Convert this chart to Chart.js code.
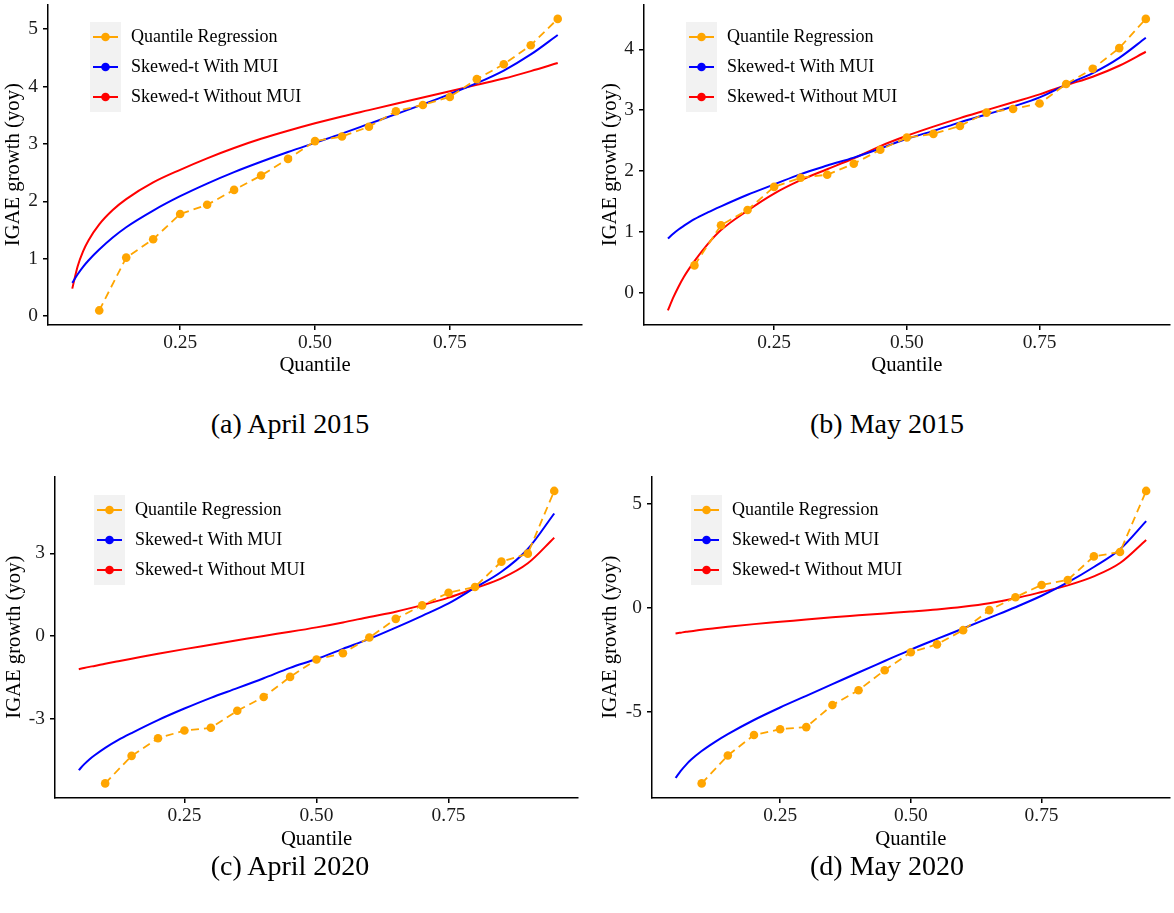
<!DOCTYPE html>
<html>
<head>
<meta charset="utf-8">
<title>IGAE growth by quantile</title>
<script src="https://cdn.jsdelivr.net/npm/chart.js@4.4.1/dist/chart.umd.min.js"></script>
<style>
  body {
    margin: 0;
    background: #fff;
    width: 1174px;
    height: 913px;
    position: relative;
    overflow: hidden;
    font-family: 'Liberation Serif', 'Times New Roman', serif;
  }
  canvas { position: absolute; }
  .caption {
    position: absolute;
    width: 400px;
    text-align: center;
    font-size: 28px;
    line-height: 28px;
    color: #000;
  }
</style>
</head>
<body>
<canvas id="chartA" width="590" height="380" style="left:0px;top:0px"></canvas>
<canvas id="chartB" width="584" height="380" style="left:590px;top:0px"></canvas>
<canvas id="chartC" width="590" height="380" style="left:0px;top:472px"></canvas>
<canvas id="chartD" width="584" height="380" style="left:590px;top:472px"></canvas>

<div class="caption" style="left:90px;top:410px">(a) April 2015</div>
<div class="caption" style="left:687px;top:410px">(b) May 2015</div>
<div class="caption" style="left:90px;top:852px">(c) April 2020</div>
<div class="caption" style="left:687px;top:852px">(d) May 2020</div>

<script>
const qrQuantiles = [0.10, 0.15, 0.20, 0.25, 0.30, 0.35, 0.40, 0.45, 0.50, 0.55, 0.60, 0.65, 0.70, 0.75, 0.80, 0.85, 0.90, 0.95];
const curveQuantiles = [0.05, 0.06, 0.07, 0.08, 0.10, 0.125, 0.15, 0.20, 0.25, 0.30, 0.35, 0.40, 0.45, 0.50, 0.55, 0.60, 0.65, 0.70, 0.75, 0.80, 0.85, 0.90, 0.95];
const xTicks = [0.25, 0.50, 0.75];
const seriesNames = ['Quantile Regression', 'Skewed-t With MUI', 'Skewed-t Without MUI'];
const seriesColors = ['#FFA500', '#0000FF', '#FF0000'];

// (a) April 2015
const apr2015QR = [0.10, 1.02, 1.34, 1.78, 1.94, 2.20, 2.45, 2.74, 3.05, 3.13, 3.30, 3.57, 3.68, 3.82, 4.13, 4.39, 4.72, 5.18];
const apr2015With = [0.58, 0.73, 0.86, 0.97, 1.16, 1.37, 1.55, 1.84, 2.09, 2.31, 2.51, 2.69, 2.86, 3.02, 3.18, 3.35, 3.52, 3.69, 3.87, 4.06, 4.28, 4.56, 4.90];
const apr2015Without = [0.48, 0.87, 1.13, 1.32, 1.60, 1.85, 2.04, 2.33, 2.55, 2.75, 2.93, 3.09, 3.23, 3.36, 3.48, 3.59, 3.70, 3.81, 3.92, 4.03, 4.14, 4.27, 4.41];
const apr2015Ticks = [0, 1, 2, 3, 4, 5];

// (b) May 2015
const may2015QR = [0.45, 1.11, 1.36, 1.74, 1.89, 1.94, 2.12, 2.35, 2.55, 2.61, 2.74, 2.96, 3.02, 3.11, 3.43, 3.68, 4.02, 4.50];
const may2015With = [0.89, 0.97, 1.04, 1.10, 1.21, 1.32, 1.42, 1.61, 1.78, 1.95, 2.09, 2.22, 2.37, 2.53, 2.66, 2.80, 2.93, 3.06, 3.21, 3.42, 3.61, 3.86, 4.19];
const may2015Without = [-0.29, -0.08, 0.10, 0.26, 0.52, 0.80, 1.03, 1.35, 1.63, 1.85, 2.03, 2.21, 2.41, 2.58, 2.73, 2.87, 3.00, 3.13, 3.26, 3.41, 3.55, 3.73, 3.96];
const may2015Ticks = [0, 1, 2, 3, 4];

// (c) April 2020
const apr2020QR = [-5.36, -4.36, -3.72, -3.44, -3.34, -2.72, -2.22, -1.49, -0.86, -0.63, -0.06, 0.62, 1.11, 1.57, 1.78, 2.70, 2.99, 5.27];
const apr2020With = [-4.88, -4.67, -4.49, -4.34, -4.07, -3.78, -3.53, -3.06, -2.64, -2.25, -1.90, -1.54, -1.16, -0.84, -0.47, -0.11, 0.30, 0.73, 1.18, 1.75, 2.33, 3.16, 4.45];
const apr2020Without = [-1.21, -1.165, -1.125, -1.09, -1.01, -0.92, -0.83, -0.65, -0.48, -0.32, -0.16, 0.00, 0.15, 0.31, 0.49, 0.69, 0.88, 1.12, 1.39, 1.73, 2.09, 2.64, 3.57];
const apr2020Ticks = [-3, 0, 3];

// (d) May 2020
const may2020QR = [-8.42, -7.08, -6.10, -5.82, -5.72, -4.66, -3.95, -2.99, -2.13, -1.75, -1.07, -0.11, 0.51, 1.10, 1.34, 2.47, 2.68, 5.61];
const may2020With = [-8.16, -7.82, -7.53, -7.28, -6.87, -6.44, -6.06, -5.38, -4.78, -4.22, -3.66, -3.10, -2.55, -2.00, -1.49, -0.99, -0.48, 0.03, 0.58, 1.22, 1.96, 2.81, 4.16];
const may2020Without = [-1.23, -1.19, -1.15, -1.12, -1.05, -0.98, -0.91, -0.78, -0.67, -0.56, -0.45, -0.36, -0.27, -0.18, -0.08, 0.05, 0.22, 0.46, 0.76, 1.08, 1.51, 2.15, 3.26];
const may2020Ticks = [-5, 0, 5];

const fontFamily = "'Liberation Serif', 'Times New Roman', serif";

// legend drawn inside the plot, ggplot style (grey key boxes)
const insideLegend = {
    id: 'insideLegend',
    afterDraw(chart, args, opts) {
        const ctx = chart.ctx;
        const lx = opts.left;
        const ly = opts.top;
        ctx.save();
        chart.data.datasets.forEach((ds, i) => {
            const top = ly + i * 30;
            const cy = top + 15;
            ctx.fillStyle = '#F2F2F2';
            ctx.fillRect(lx, top, 31, 30);
            ctx.strokeStyle = ds.borderColor;
            ctx.lineWidth = 2;
            ctx.beginPath();
            ctx.moveTo(lx + 3, cy);
            ctx.lineTo(lx + 28, cy);
            ctx.stroke();
            ctx.fillStyle = ds.borderColor;
            ctx.beginPath();
            ctx.arc(lx + 15.5, cy, 4.3, 0, Math.PI * 2);
            ctx.fill();
            ctx.fillStyle = '#000';
            ctx.font = '18px ' + fontFamily;
            ctx.textBaseline = 'middle';
            ctx.textAlign = 'left';
            ctx.fillText(ds.label, lx + 41, cy);
        });
        ctx.restore();
    }
};

function toPoints(xs, ys) {
    return xs.map((x, i) => ({ x: x, y: ys[i] }));
}

// ggplot-like 5% expansion of the data range
function paddedRange(...arrays) {
    const all = [].concat(...arrays);
    const lo = Math.min(...all);
    const hi = Math.max(...all);
    const pad = (hi - lo) * 0.05;
    return [lo - pad, hi + pad];
}

function drawPanel(p) {
    const [yMin, yMax] = paddedRange(p.qr, p.withMui, p.withoutMui);
    new Chart(p.id, {
        type: 'line',
        data: {
            datasets: [{
                label: seriesNames[0],
                data: toPoints(qrQuantiles, p.qr),
                borderColor: seriesColors[0],
                backgroundColor: seriesColors[0],
                borderWidth: 1.8,
                borderDash: [8, 5],
                pointRadius: 4.3,
                pointBorderWidth: 0,
                pointBackgroundColor: seriesColors[0],
                tension: 0
            }, {
                label: seriesNames[1],
                data: toPoints(curveQuantiles, p.withMui),
                borderColor: seriesColors[1],
                borderWidth: 2,
                pointRadius: 0,
                cubicInterpolationMode: 'monotone'
            }, {
                label: seriesNames[2],
                data: toPoints(curveQuantiles, p.withoutMui),
                borderColor: seriesColors[2],
                borderWidth: 2,
                pointRadius: 0,
                cubicInterpolationMode: 'monotone'
            }]
        },
        options: {
            responsive: false,
            animation: false,
            devicePixelRatio: 1,
            layout: { padding: { left: 0, right: p.padRight, top: p.padTop, bottom: 0 } },
            plugins: {
                legend: { display: false },
                tooltip: { enabled: false },
                insideLegend: { left: p.legendAt[0], top: p.legendAt[1] }
            },
            scales: {
                x: {
                    type: 'linear',
                    min: 0.005,
                    max: 0.995,
                    afterBuildTicks: s => { s.ticks = xTicks.map(v => ({ value: v })); },
                    afterFit: s => {
                        s.height = p.xHeight;
                        s.paddingLeft = 0;
                        s.paddingRight = 0;
                    },
                    ticks: {
                        color: '#1a1a1a',
                        padding: 1,
                        font: { family: fontFamily, size: 19.4 },
                        callback: v => Number(v).toFixed(2)
                    },
                    grid: { drawOnChartArea: false, drawTicks: true, tickLength: 5, color: '#000', lineWidth: 1.5 },
                    border: { display: true, color: '#000', width: 1.5 },
                    title: {
                        display: true,
                        text: 'Quantile',
                        color: '#000',
                        font: { family: fontFamily, size: 20.7 },
                        padding: { top: 0, bottom: p.xTitleGap }
                    }
                },
                y: {
                    type: 'linear',
                    min: yMin,
                    max: yMax,
                    afterBuildTicks: s => { s.ticks = p.yTicks.map(v => ({ value: v })); },
                    afterFit: s => {
                        s.width = p.yWidth;
                        s.paddingTop = 0;
                        s.paddingBottom = 0;
                    },
                    ticks: {
                        color: '#1a1a1a',
                        padding: 5,
                        font: { family: fontFamily, size: 19.4 },
                        callback: v => String(v)
                    },
                    grid: { drawOnChartArea: false, drawTicks: true, tickLength: 5, color: '#000', lineWidth: 1.5 },
                    border: { display: true, color: '#000', width: 1.5 },
                    title: {
                        display: true,
                        text: 'IGAE growth (yoy)',
                        color: '#000',
                        font: { family: fontFamily, size: 20.7, lineHeight: 1 },
                        padding: { top: p.yTitleGap, bottom: 0 }
                    }
                }
            }
        },
        plugins: [insideLegend]
    });
}

const panels = [
    { id: 'chartA', qr: apr2015QR, withMui: apr2015With, withoutMui: apr2015Without, yTicks: apr2015Ticks,
      yWidth: 48, xHeight: 55, padRight: 8, padTop: 2, yTitleGap: 3.6, xTitleGap: 2, legendAt: [90, 22] },
    { id: 'chartB', qr: may2015QR, withMui: may2015With, withoutMui: may2015Without, yTicks: may2015Ticks,
      yWidth: 54, xHeight: 55, padRight: 1, padTop: 1, yTitleGap: 10.6, xTitleGap: 2, legendAt: [96, 22] },
    { id: 'chartC', qr: apr2020QR, withMui: apr2020With, withoutMui: apr2020Without, yTicks: apr2020Ticks,
      yWidth: 55, xHeight: 54, padRight: 12, padTop: 2, yTitleGap: 4.6, xTitleGap: 0.5, legendAt: [94, 23] },
    { id: 'chartD', qr: may2020QR, withMui: may2020With, withoutMui: may2020Without, yTicks: may2020Ticks,
      yWidth: 62, xHeight: 54, padRight: 1, padTop: 2, yTitleGap: 10.6, xTitleGap: 0.5, legendAt: [101, 23] }
];

panels.forEach(drawPanel);
</script>
</body>
</html>
